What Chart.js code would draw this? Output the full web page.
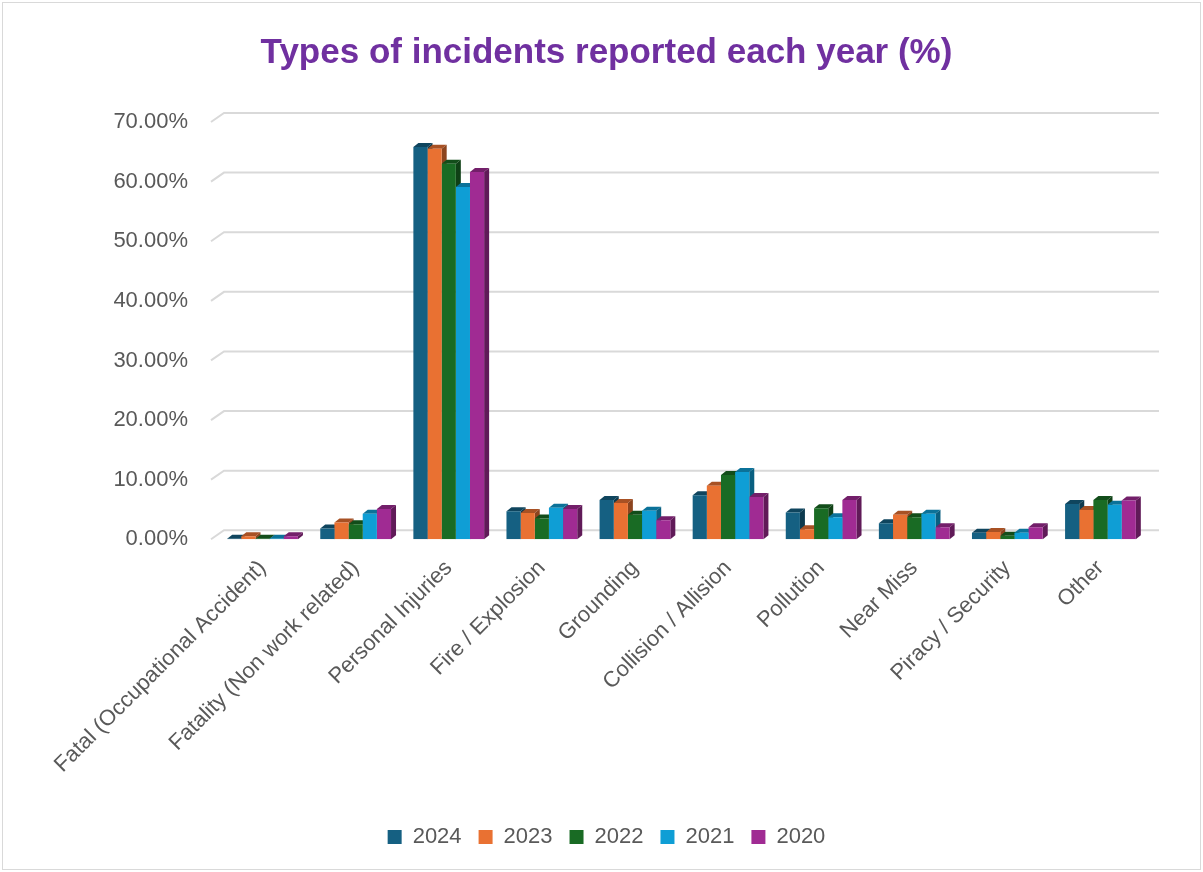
<!DOCTYPE html>
<html>
<head>
<meta charset="utf-8">
<script src="https://cdn.jsdelivr.net/npm/chart.js@4/dist/chart.umd.min.js"></script>
<style>
  body { margin: 0; background: #fff; }
  #wrap { position: absolute; left: 2px; top: 2px; width: 1199px; height: 868px; border: 1px solid #d9d9d9; box-sizing: border-box; }
</style>
</head>
<body>
<div id="wrap"><canvas id="chart"></canvas></div>
<script>
// categories and values (%)
const categories = ['Fatal (Occupational Accident)', 'Fatality (Non work related)', 'Personal Injuries', 'Fire / Explosion',
  'Grounding', 'Collision / Allision', 'Pollution', 'Near Miss', 'Piracy / Security', 'Other'];
const years = ['2024', '2023', '2022', '2021', '2020'];
const v2024 = [0.1, 1.8, 65.8, 4.7, 6.6, 7.4, 4.5, 2.7, 1.1, 5.9];
const v2023 = [0.5, 2.8, 65.5, 4.4, 6.1, 9.0, 1.7, 4.1, 1.2, 4.9];
const v2022 = [0.1, 2.5, 63.0, 3.5, 4.1, 10.8, 5.2, 3.7, 0.6, 6.6];
const v2021 = [0.1, 4.3, 59.1, 5.3, 4.8, 11.3, 3.7, 4.3, 1.1, 5.8];
const v2020 = [0.5, 5.1, 61.6, 5.1, 3.2, 7.1, 6.6, 2.0, 2.0, 6.5];
const colors = ['#156082', '#E97132', '#196B24', '#0F9ED5', '#A02B93'];
const yTicks = [0, 10, 20, 30, 40, 50, 60, 70];

const FONT = "'Liberation Sans', Arial, sans-serif";
const GREY = '#595959';

function shade(hex, f) {
  const n = parseInt(hex.slice(1), 16);
  const r = Math.round(((n >> 16) & 255) * f), g = Math.round(((n >> 8) & 255) * f), b = Math.round((n & 255) * f);
  return `rgb(${r},${g},${b})`;
}

// back-wall gridlines + bar depth faces, drawn behind the bar fronts
const depth3d = {
  id: 'depth3d',
  beforeDatasetsDraw(chart) {
    const ctx = chart.ctx, area = chart.chartArea, ys = chart.scales.y;
    ctx.save();
    ctx.strokeStyle = '#d9d9d9';
    ctx.lineWidth = 2;
    yTicks.forEach(t => {
      const y = ys.getPixelForValue(t);
      ctx.beginPath();
      ctx.moveTo(area.left - 5, y);
      ctx.lineTo(area.left + 8, y - 9);
      ctx.lineTo(area.right + 12, y - 9);
      ctx.stroke();
    });
    const dx = 5, dy = 4;
    chart.data.datasets.forEach((ds, i) => {
      const meta = chart.getDatasetMeta(i);
      meta.data.forEach(bar => {
        const l = bar.x - bar.width / 2, r = bar.x + bar.width / 2;
        ctx.fillStyle = shade(colors[i], 0.72);
        ctx.beginPath();
        ctx.moveTo(l, bar.y); ctx.lineTo(l + dx, bar.y - dy); ctx.lineTo(r + dx, bar.y - dy); ctx.lineTo(r, bar.y);
        ctx.closePath(); ctx.fill();
        ctx.fillStyle = shade(colors[i], 0.6);
        ctx.beginPath();
        ctx.moveTo(r, bar.y); ctx.lineTo(r + dx, bar.y - dy); ctx.lineTo(r + dx, bar.base - dy); ctx.lineTo(r, bar.base);
        ctx.closePath(); ctx.fill();
      });
    });
    ctx.restore();
  }
};

const series = [v2024, v2023, v2022, v2021, v2020];

new Chart(document.getElementById('chart'), {
  type: 'bar',
  data: {
    labels: categories,
    datasets: years.map((y, i) => ({
      label: y,
      data: series[i],
      backgroundColor: colors[i],
      categoryPercentage: 0.76,
      barPercentage: 1.0
    }))
  },
  options: {
    responsive: true,
    maintainAspectRatio: false,
    animation: false,
    layout: { padding: { left: 50, right: 40, top: 0, bottom: 11 } },
    plugins: {
      title: {
        display: true,
        text: 'Types of incidents reported each year (%)',
        color: '#7030A0',
        font: { family: FONT, size: 35, weight: 'bold' },
        padding: { top: 29, bottom: 48 }
      },
      legend: {
        position: 'bottom',
        labels: { color: GREY, font: { family: FONT, size: 22 }, boxWidth: 14, boxHeight: 14, padding: 17 }
      },
      tooltip: { enabled: false }
    },
    scales: {
      x: {
        grid: { display: false },
        border: { display: false },
        ticks: { color: GREY, font: { family: FONT, size: 22 }, maxRotation: 45, minRotation: 45, padding: 8 },
        afterFit: s => { s.paddingLeft = 0; s.paddingRight = 53; s.height += 23; }
      },
      y: {
        min: 0, max: 70,
        grid: { display: false },
        border: { display: false },
        afterBuildTicks: s => { s.ticks = yTicks.map(v => ({ value: v })); },
        afterFit: s => { s.width = 163; },
        ticks: { color: GREY, font: { family: FONT, size: 22 }, padding: 20, callback: v => v.toFixed(2) + '%' }
      }
    }
  },
  plugins: [depth3d]
});
</script>
</body>
</html>
